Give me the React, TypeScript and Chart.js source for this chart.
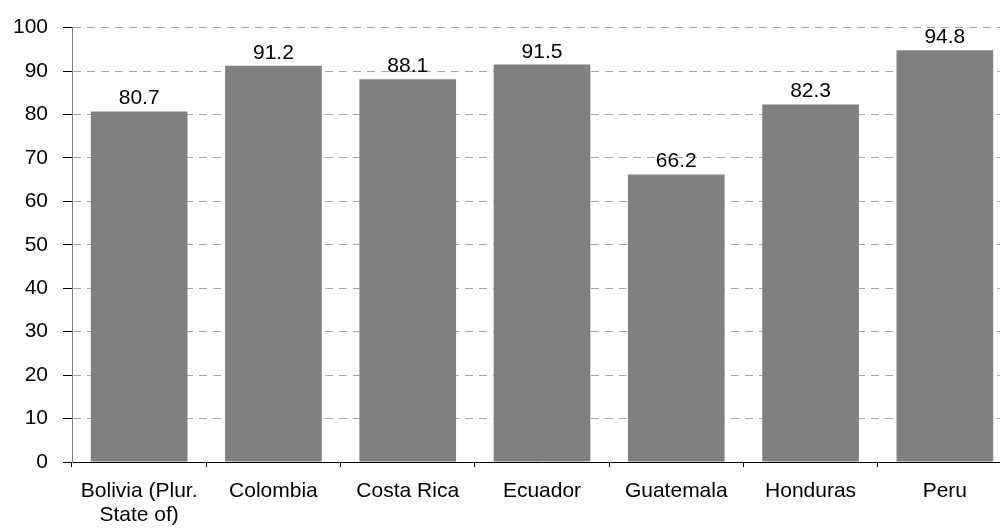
import React, { useEffect, useRef } from "react";
import { Chart, registerables } from "chart.js";

Chart.register(...registerables);

const categories: (string | string[])[] = [
  ["Bolivia (Plur.", "State of)"],
  "Colombia",
  "Costa Rica",
  "Ecuador",
  "Guatemala",
  "Honduras",
  "Peru",
];
const values: number[] = [80.7, 91.2, 88.1, 91.5, 66.2, 82.3, 94.8];
const yTicks: number[] = [0, 10, 20, 30, 40, 50, 60, 70, 80, 90, 100];

const FONT = "'Liberation Sans', Arial, sans-serif";
const FS = 21;

const dataLabels = {
  id: "dataLabels",
  afterDatasetsDraw(chart: any) {
    const ctx = chart.ctx;
    const meta = chart.getDatasetMeta(0);
    ctx.save();
    ctx.font = `${FS}px ${FONT}`;
    ctx.fillStyle = "#000";
    ctx.textAlign = "center";
    ctx.textBaseline = "alphabetic";
    meta.data.forEach((bar: any, i: number) => {
      ctx.fillText(values[i].toFixed(1), bar.x, bar.y - 7);
    });
    ctx.restore();
  },
};

export default function App() {
  const ref = useRef<HTMLCanvasElement>(null);
  useEffect(() => {
    if (!ref.current) return;
    const chart = new Chart(ref.current, {
      type: "bar",
      data: {
        labels: categories,
        datasets: [
          {
            data: values,
            backgroundColor: "#808080",
            borderWidth: 0,
            categoryPercentage: 1,
            barPercentage: 0.72,
          },
        ],
      },
      options: {
        responsive: false,
        animation: false,
        layout: { padding: { top: 27, left: 0, right: 0, bottom: 0 } },
        plugins: {
          legend: { display: false },
          tooltip: { enabled: false },
          title: { display: false },
        },
        scales: {
          x: {
            grid: {
              display: true,
              offset: true,
              drawOnChartArea: false,
              drawTicks: true,
              tickLength: 5,
              tickColor: "#000",
              lineWidth: 1,
            },
            border: { display: true, color: "#000", width: 1 },
            ticks: {
              color: "#000",
              font: { family: FONT, size: FS, lineHeight: 1.14 },
              padding: 12,
              maxRotation: 0,
              autoSkip: false,
            },
            afterFit: (s: any) => {
              s.height = 69;
            },
          },
          y: {
            min: 0,
            max: 100,
            afterBuildTicks: (s: any) => {
              s.ticks = yTicks.map((v) => ({ value: v }));
            },
            grid: {
              color: "#a6a6a6",
              tickBorderDash: [],
              tickColor: "#000",
              tickLength: 9,
              lineWidth: 1,
            } as any,
            border: { display: true, color: "#808080", width: 1, dash: [8, 6] } as any,
            ticks: {
              color: "#000",
              font: { family: FONT, size: FS },
              padding: 15,
            },
            afterFit: (s: any) => {
              s.width = 72;
            },
          },
        },
      },
      plugins: [dataLabels],
    });
    return () => chart.destroy();
  }, []);
  return (
    <div
      style={{
        position: "fixed",
        left: 0,
        top: 0,
        width: 1000,
        height: 531,
        overflow: "hidden",
        background: "#fff",
      }}
    >
      <canvas ref={ref} width={1012} height={531} style={{ display: "block" }} />
    </div>
  );
}
